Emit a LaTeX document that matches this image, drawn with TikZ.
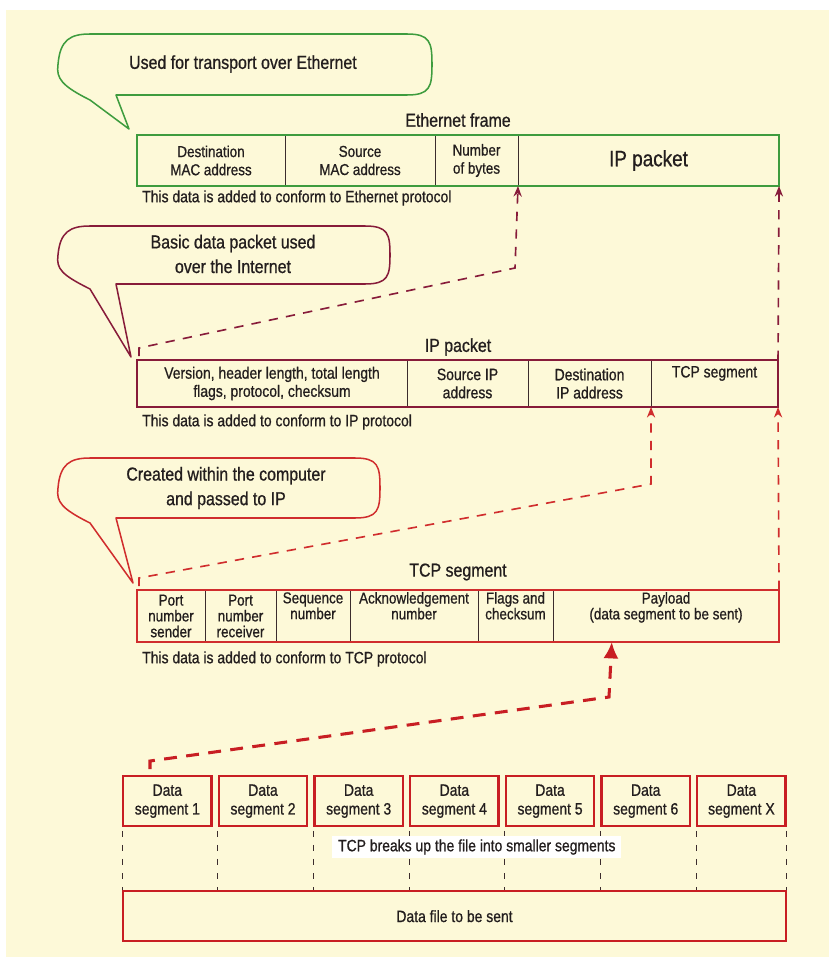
\documentclass[tikz,border=0pt]{standalone}
\usepackage{fontspec}
\setmainfont{Liberation Sans}[FakeStretch=0.85,FakeBold=0.8]
\usepackage{tikz}
\usetikzlibrary{arrows.meta}
\usetikzlibrary{positioning}
\usetikzlibrary{calc}
\definecolor{cream}{RGB}{253,249,216}
\definecolor{ethgreen}{RGB}{62,156,62}
\definecolor{ipmaroon}{RGB}{135,28,58}
\definecolor{tcpred}{RGB}{208,45,45}
\definecolor{segred}{RGB}{200,30,35}
\definecolor{divider}{RGB}{60,45,45}
\definecolor{ink}{RGB}{35,30,30}
\tikzstyle{cell}=[draw=divider,line width=0.6pt,inner sep=1pt,outer sep=0pt,align=center,text=ink]
\tikzstyle{ethcell}=[cell,minimum height=1.53cm,font=\fontsize{13.5}{15.5}\selectfont]
\tikzstyle{ipcell}=[cell,minimum height=1.41cm,font=\fontsize{14}{15.5}\selectfont]
\tikzstyle{tcpcell}=[cell,minimum height=1.56cm,font=\fontsize{13.5}{13.5}\selectfont]
\tikzstyle{segbox}=[draw=segred,line width=2pt,minimum width=2.65cm,minimum height=1.5cm,align=center,text=ink,font=\fontsize{14}{16}\selectfont,inner sep=1pt]
\tikzstyle{title}=[text=ink,font=\fontsize{16}{19}\selectfont]
\tikzstyle{talk}=[text=ink,align=center,font=\fontsize{16}{21}\selectfont]
\tikzstyle{note}=[text=ink,anchor=west,inner sep=0pt,font=\fontsize{14}{16}\selectfont]
\tikzstyle{frame}=[line width=2pt]
\tikzstyle{ipdash}=[draw=ipmaroon,line width=1.4pt,dash pattern=on 8pt off 7pt,-{Stealth[length=9pt,width=7pt]}]
\tikzstyle{tcpdash}=[draw=tcpred,line width=1.4pt,dash pattern=on 8pt off 7pt,-{Stealth[length=9pt,width=7pt]}]
\tikzstyle{datadash}=[draw=segred,line width=2.6pt,dash pattern=on 11pt off 8pt,-{Latex[length=14pt,width=13pt]}]
\tikzstyle{cut}=[draw=divider,line width=0.8pt,dash pattern=on 5pt off 7pt]
% speech bubble: colour, top, bottom, right end, tip x, tip y
\newcommand*{\callout}[6]{
\draw[#1,line width=1.3pt,line join=round] (90,#3+5) .. controls (62,#3-9) and (56,{(#2+#3)/2+14}) .. (58,{(#2+#3)/2})
  .. controls (60,#2+6) and (70,#2) .. (90,#2) -- (#4-25,#2)
  .. controls (#4-2,#2) and (#4,#2+8) .. (#4,{(#2+#3)/2})
  .. controls (#4,#3-8) and (#4-2,#3) .. (#4-25,#3) -- (116,#3) -- (#5,#6) -- cycle;
}
\begin{document}
\begin{tikzpicture}[x=0.03cm,y=-0.03cm]
\useasboundingbox (0,0) rectangle (829,957);
\fill[white] (0,0) rectangle (829,957);
\fill[cream] (6,10) rectangle (829,957);

%ethernet frame
\callout{ethgreen}{34}{95}{432}{129}{129}
\node[talk,anchor=west] (ethtalk) at (125,64) {Used for transport over Ethernet};
\node[title] (ethtitle) at (458,120) {Ethernet frame};
\node[ethcell,minimum width=4.44cm,anchor=north west] (eth1) at (137,135) {Destination\\MAC address};
\node[ethcell,minimum width=4.5cm,right=0pt of eth1] (eth2) {Source\\MAC address};
\node[ethcell,minimum width=2.49cm,right=0pt of eth2] (eth3) {Number\\of bytes};
\node[ethcell,minimum width=7.83cm,right=0pt of eth3,font=\fontsize{19}{22}\selectfont] (eth4) {IP packet};
\draw[frame,ethgreen] (eth1.north west) rectangle (eth4.south east);
\node[note] (ethnote) at (142,198) {This data is added to conform to Ethernet protocol};

%ip packet
\callout{ipmaroon}{226}{284}{390}{131}{357}
\node[talk] (iptalk) at (233,254) {Basic data packet used\\over the Internet};
\node[title] (iptitle) at (458,347) {IP packet};
\node[ipcell,minimum width=8.1cm,anchor=north west] (ip1) at (137,360) {Version, header length, total length\\flags, protocol, checksum};
\node[ipcell,minimum width=3.63cm,right=0pt of ip1] (ip2) {Source IP\\address};
\node[ipcell,minimum width=3.69cm,right=0pt of ip2] (ip3) {Destination\\IP address};
\node[ipcell,minimum width=3.81cm,right=0pt of ip3] (ip4) {TCP segment\\\strut};
\draw[frame,ipmaroon] (ip1.north west) rectangle (ip4.south east);
\node[note] (ipnote) at (142,422) {This data is added to conform to IP protocol};

%tcp segment
\callout{tcpred}{458}{518}{380}{133}{583}
\node[talk] (tcptalk) at (226,488) {Created within the computer\\and passed to IP};
\node[title] (tcptitle) at (458,572) {TCP segment};
\node[tcpcell,minimum width=2.04cm,anchor=north west] (tcp1) at (137,590) {Port\\number\\sender};
\node[tcpcell,minimum width=2.13cm,right=0pt of tcp1] (tcp2) {Port\\number\\receiver};
\node[tcpcell,minimum width=2.22cm,right=0pt of tcp2] (tcp3) {Sequence\\number\\\strut};
\node[tcpcell,minimum width=3.84cm,right=0pt of tcp3] (tcp4) {Acknowledgement\\number\\\strut};
\node[tcpcell,minimum width=2.25cm,right=0pt of tcp4] (tcp5) {Flags and\\checksum\\\strut};
\node[tcpcell,minimum width=6.78cm,right=0pt of tcp5] (tcp6) {Payload\\(data segment to be sent)\\\strut};
\draw[frame,tcpred] (tcp1.north west) rectangle (tcp6.south east);
\node[note] (tcpnote) at (142,659) {This data is added to conform to TCP protocol};

%data segments
\node[segbox,anchor=north west] (ds1) at (122,775) {Data\\segment 1};
\foreach \i [remember=\i as \j (initially 1)] in {2,...,6} {
\node[segbox,right=0.15cm of ds\j] (ds\i) {Data\\segment \i};
}
\node[segbox,right=0.15cm of ds6] (ds7) {Data\\segment X};
\node[segbox,minimum width=19.88cm,anchor=north west] (file) at (122,890) {Data file to be sent};
\foreach \i in {1,...,7} {
\draw[cut] ([yshift=-3pt]ds\i.south west) -- (ds\i.south west |- file.north);
}
\draw[cut] ([yshift=-3pt]ds7.south east) -- (ds7.south east |- file.north);
\node[note,fill=white,inner xsep=5pt,inner ysep=3pt] (breaks) at (332,847) {TCP breaks up the file into smaller segments};

%arrows
\coordinate (pay) at ($(tcp6.south west)!0.26!(tcp6.south east)$);
\coordinate (bend1) at (609,697);
\draw[datadash] ($(ds1.north west)+(28,-6)$) -- ++(0,-8) -- (bend1) -- (pay);

\coordinate (bend2) at (651,484);
\draw[tcpdash] ($(tcp1.north west)+(2,-4)$) -- ++(0,-8) -- (bend2) -- (ip3.south east);
\draw[tcpdash] (tcp6.north east) -- (ip4.south east);

\coordinate (bend3) at (515,268);
\draw[ipdash] ($(ip1.north west)+(2,-4)$) -- ++(0,-8) -- (bend3) -- (eth3.south east);
\draw[ipdash] (ip4.north east) -- (eth4.south east);
\end{tikzpicture}
\end{document}
